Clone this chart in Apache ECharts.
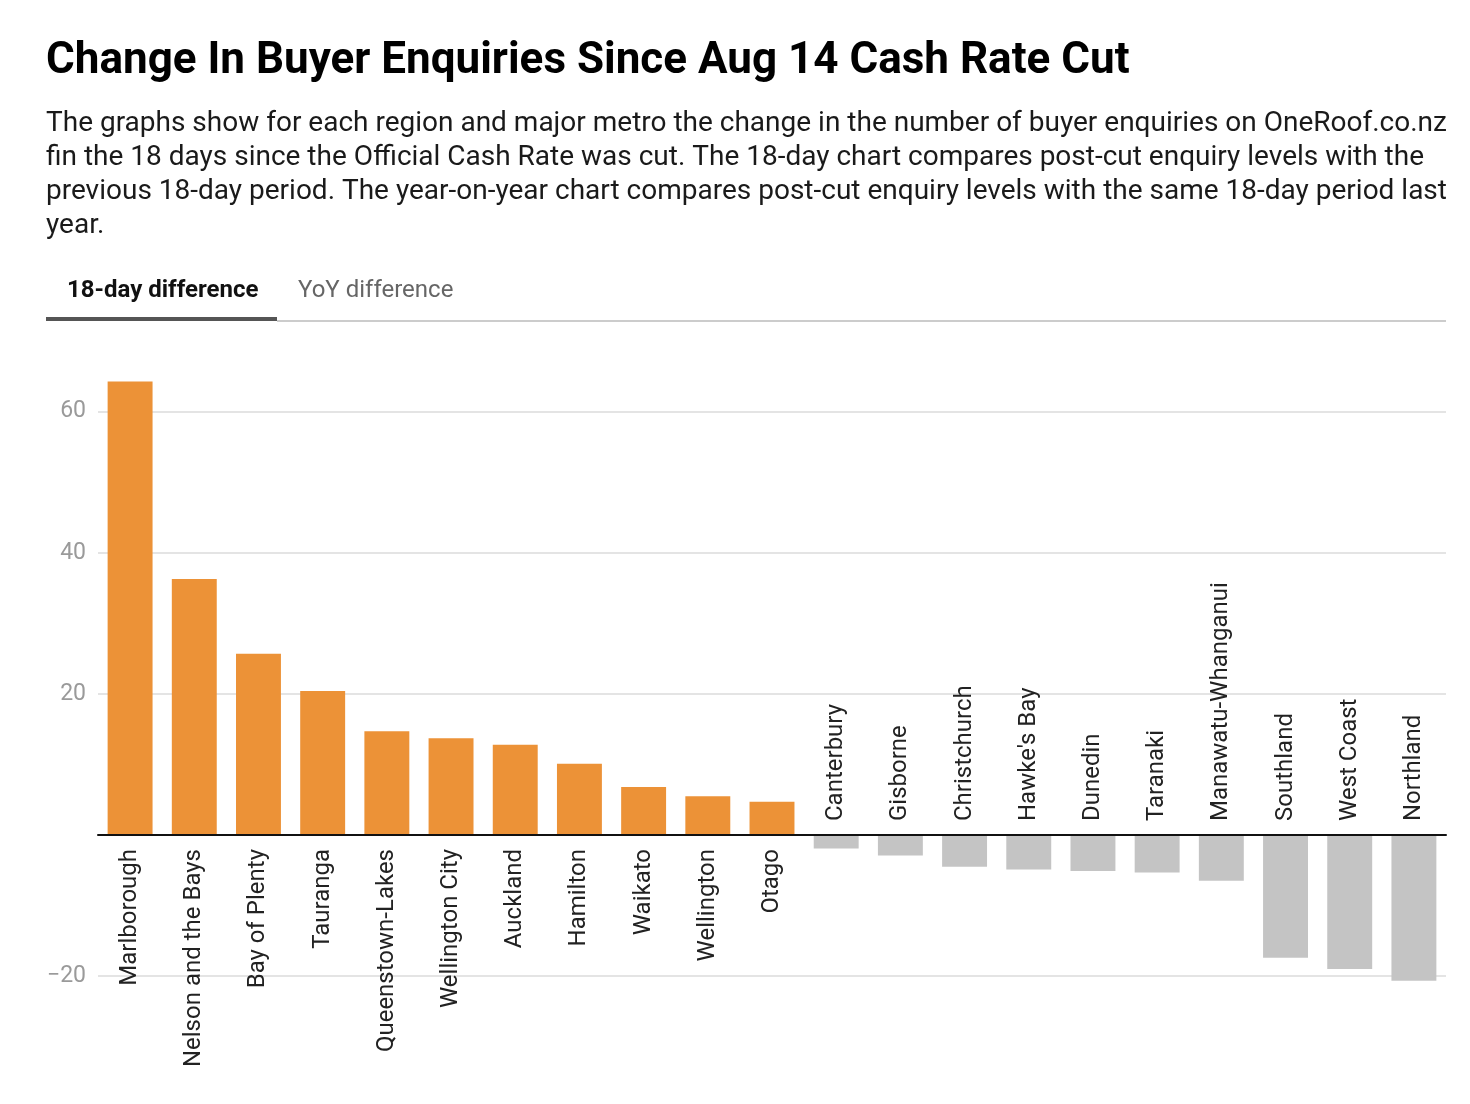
<!DOCTYPE html>
<html>
<head>
<meta charset="utf-8">
<script src="https://cdn.jsdelivr.net/npm/echarts@6/dist/echarts.min.js"></script>
<style>
html,body{margin:0;padding:0;background:#fff;}
#chart{width:1470px;height:1104px;}
</style>
</head>
<body>
<div id="chart"></div>
<script>
const categories = ["Marlborough","Nelson and the Bays","Bay of Plenty","Tauranga","Queenstown-Lakes","Wellington City","Auckland","Hamilton","Waikato","Wellington","Otago","Canterbury","Gisborne","Christchurch","Hawke's Bay","Dunedin","Taranaki","Manawatu-Whanganui","Southland","West Coast","Northland"];
const values18Day = [64.3, 36.3, 25.7, 20.4, 14.7, 13.7, 12.8, 10.1, 6.8, 5.5, 4.7, -1.9, -2.9, -4.5, -4.9, -5.1, -5.3, -6.5, -17.4, -19.0, -20.65];
const gridValues = [-20, 20, 40, 60];
const tickLabels = [-20, 20, 40, 60];

const titleText = "Change In Buyer Enquiries Since Aug 14 Cash Rate Cut";
const subtitleLines = [
  "The graphs show for each region and major metro the change in the number of buyer enquiries on OneRoof.co.nz",
  "fin the 18 days since the Official Cash Rate was cut. The 18-day chart compares post-cut enquiry levels with the",
  "previous 18-day period. The year-on-year chart compares post-cut enquiry levels with the same 18-day period last",
  "year."
];
const tabLabels = ["18-day difference", "YoY difference"];

const ORANGE = '#EC9237';
const GREY = '#C4C4C4';
const FONT = 'Roboto, "Noto Sans", sans-serif';

const barData = values18Day.map(v => ({
  value: v,
  itemStyle: { color: v >= 0 ? ORANGE : GREY },
  label: v >= 0
    ? { position: 'bottom', align: 'right', verticalAlign: 'middle' }
    : { position: 'top', align: 'left', verticalAlign: 'middle' }
}));

const chart = echarts.init(document.getElementById('chart'), null, { renderer: 'canvas' });
chart.setOption({
  animation: false,
  backgroundColor: '#fff',
  textStyle: { fontFamily: FONT },
  grid: { left: 98, right: 24, top: 369.4, bottom: 113.8, containLabel: false },
  xAxis: {
    type: 'category',
    data: categories,
    z: 3,
    axisLine: { onZero: true, lineStyle: { color: '#111', width: 2 } },
    axisTick: { show: false },
    axisLabel: { show: false },
    splitLine: { show: false }
  },
  yAxis: {
    type: 'value',
    min: -22,
    max: 66,
    interval: 2,
    axisLine: { show: false },
    axisTick: { show: false },
    splitLine: { show: false },
    axisLabel: {
      color: '#9a9a9a',
      fontSize: 23,
      fontFamily: FONT,
      margin: 12,
      padding: [4, 0, 0, 0],
      formatter: v => tickLabels.indexOf(v) >= 0 ? String(v).replace('-', '\u2212') : ''
    }
  },
  series: [
    {
      type: 'line',
      data: [],
      z: 0,
      silent: true,
      markLine: {
        silent: true,
        z: 0,
        symbol: 'none',
        label: { show: false },
        lineStyle: { color: '#e4e4e4', width: 2, type: 'solid' },
        data: gridValues.map(g => ({ yAxis: g }))
      }
    },
    {
      type: 'bar',
      z: 2,
      data: barData,
      barCategoryGap: '30%',
      label: {
        show: true,
        formatter: '{b}',
        rotate: 90,
        distance: 14,
        color: '#222',
        fontSize: 24,
        fontFamily: FONT
      }
    }
  ],
  graphic: [
    { type: 'text', left: 46, top: 40, style: { text: titleText, font: 'bold 44px ' + FONT, fill: '#000' } },
    { type: 'text', left: 46, top: 107, style: { text: subtitleLines.join('\n'), font: '28px ' + FONT, lineHeight: 34, fill: '#1a1a1a' } },
    { type: 'text', left: 67, top: 279, style: { text: tabLabels[0], font: 'bold 24px ' + FONT, fill: '#111' } },
    { type: 'text', left: 298, top: 279, style: { text: tabLabels[1], font: '24px ' + FONT, fill: '#666' } },
    { type: 'rect', shape: { x: 277, y: 320, width: 1169, height: 2 }, style: { fill: '#cccccc' } },
    { type: 'rect', shape: { x: 46, y: 317, width: 231, height: 4 }, style: { fill: '#555555' } }
  ]
});
</script>
</body>
</html>
